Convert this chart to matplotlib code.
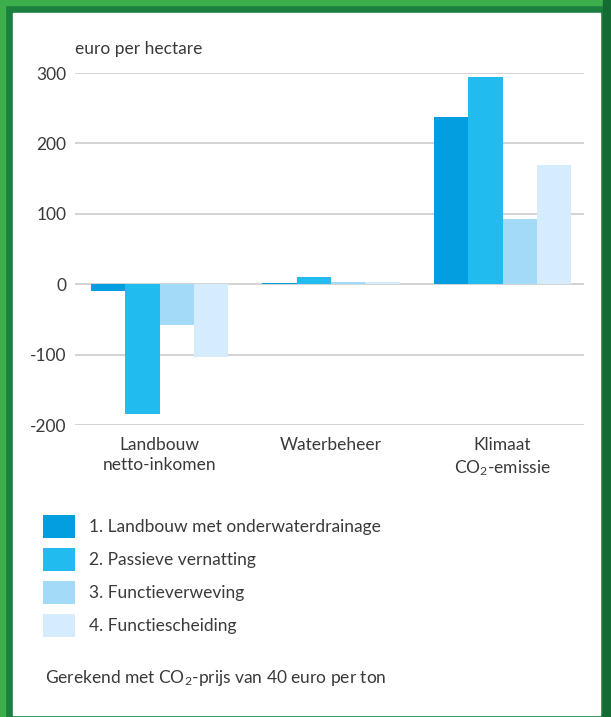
import matplotlib.pyplot as plt
import matplotlib.patches as mpatches
import numpy as np

plt.rcParams['font.family'] = ['Lato', 'DejaVu Sans']
plt.rcParams['mathtext.default'] = 'regular'

categories = ['Landbouw\nnetto-inkomen', 'Waterbeheer', 'Klimaat\nCO$_2$-emissie']
series = ['1. Landbouw met onderwaterdrainage', '2. Passieve vernatting',
          '3. Functieverweving', '4. Functiescheiding']
values = [
    [-9, 1, 237],
    [-185, 10, 295],
    [-58, 3, 92],
    [-103, 3, 170],
]
colors = ['#039ee0', '#22bbf0', '#a3daf8', '#d4ecfd']
yticks = [-200, -100, 0, 100, 200, 300]

W, H = 611, 717
fs = 12.5
fig = plt.figure(figsize=(W / 100, H / 100), dpi=100)
fig.patch.set_facecolor('#1b7f3f')

# frame: bright green edge, dark green band, white panel
fig.patches.append(mpatches.Rectangle((0, 0), 5 / W, 1, transform=fig.transFigure,
                                      color='#3cae4c', zorder=0))
fig.patches.append(mpatches.Rectangle((0, 1 - 5 / H), 1, 5 / H, transform=fig.transFigure,
                                      color='#3cae4c', zorder=0))
fig.patches.append(mpatches.Rectangle((603 / W, 0), 8 / W, 1, transform=fig.transFigure,
                                      color='#146b34', zorder=0))
fig.patches.append(mpatches.Rectangle((13 / W, 2 / H), 587 / W, 702 / H,
                                      transform=fig.transFigure, color='white', zorder=0.5))

txt = '#3a3a3a'
ax = fig.add_axes([75 / W, (H - 425) / H, (584 - 75) / W, (425 - 73) / H])
ax.set_facecolor('none')
ax.set_zorder(2)

x = np.arange(len(categories))
w = 0.2
for i, (vals, c) in enumerate(zip(values, colors)):
    ax.bar(x + (i - 1.5) * w, vals, width=w, color=c, label=series[i], zorder=3,
           linewidth=0)

ax.set_ylim(-200, 300)
ax.set_xlim(-0.493, 2.475)
ax.set_yticks(yticks)
ax.set_yticklabels([str(t) for t in yticks], color=txt, fontsize=fs)
ax.tick_params(axis='y', length=0, pad=6)
ax.set_xticks(x)
ax.set_xticklabels(categories, color=txt, fontsize=fs, linespacing=1.3)
ax.tick_params(axis='x', length=0, pad=9)
ax.grid(axis='y', color='#c8c8c8', linewidth=1.1, zorder=0)
for s in ax.spines.values():
    s.set_visible(False)

fig.text(75 / W, 1 - 49 / H, 'euro per hectare', color=txt, fontsize=fs,
         ha='left', va='center', zorder=3)

handles, labels = ax.get_legend_handles_labels()
leg = fig.legend(handles, labels, loc='upper left', bbox_to_anchor=(43 / W, 1 - 515 / H),
                 frameon=False, fontsize=fs, handlelength=1.84, handleheight=1.66,
                 labelspacing=0.57, handletextpad=0.8, borderpad=0, borderaxespad=0,
                 labelcolor=txt)
leg.set_zorder(3)

fig.text(45 / W, 1 - 678 / H, 'Gerekend met CO$_2$-prijs van 40 euro per ton',
         color=txt, fontsize=fs, ha='left', va='center', zorder=3)

fig.savefig('out.png', dpi=100, facecolor=fig.get_facecolor())
